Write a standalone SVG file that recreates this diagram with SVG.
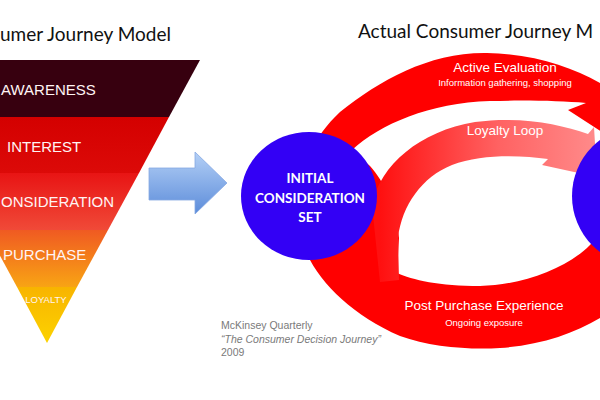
<svg xmlns="http://www.w3.org/2000/svg" width="600" height="400" viewBox="0 0 600 400">
  <defs>
    <linearGradient id="gInterest" x1="0" y1="0" x2="0" y2="1">
      <stop offset="0" stop-color="#d40000"/>
      <stop offset="1" stop-color="#dc0a08"/>
    </linearGradient>
    <linearGradient id="gConsid" x1="0" y1="0" x2="0" y2="1">
      <stop offset="0" stop-color="#e81414"/>
      <stop offset="1" stop-color="#f04a38"/>
    </linearGradient>
    <linearGradient id="gPurch" x1="0" y1="0" x2="0" y2="1">
      <stop offset="0" stop-color="#f05a22"/>
      <stop offset="1" stop-color="#f8a414"/>
    </linearGradient>
    <linearGradient id="gLoyal" x1="0" y1="0" x2="0" y2="1">
      <stop offset="0" stop-color="#f8b400"/>
      <stop offset="1" stop-color="#fcd200"/>
    </linearGradient>
    <linearGradient id="gArrow" x1="0" y1="0" x2="0" y2="1">
      <stop offset="0" stop-color="#b4d0f6"/>
      <stop offset="1" stop-color="#5c8cda"/>
    </linearGradient>
    <linearGradient id="gLoop" gradientUnits="userSpaceOnUse" x1="380" y1="0" x2="595" y2="0">
      <stop offset="0" stop-color="#ff1010"/>
      <stop offset="0.55" stop-color="#ff6262"/>
      <stop offset="1" stop-color="#ff8a8a"/>
    </linearGradient>
    <style>
      .title { font-family: Lato, "Open Sans", sans-serif; font-size: 19px; fill: #111; }
      .band { font-family: "Liberation Sans", Arial, sans-serif; font-size: 15px; fill: #fff4f4; }
      .circ { font-family: Lato, "Liberation Sans", sans-serif; font-weight: bold; font-size: 13.5px; fill: #ffffff; text-anchor: middle; }
      .ring { font-family: "Liberation Sans", Arial, sans-serif; fill: #ffffff; text-anchor: middle; }
      .big { font-size: 13.5px; }
      .small { font-size: 9.5px; }
      .cite { font-family: "Liberation Sans", Arial, sans-serif; font-size: 10.5px; fill: #7a7a7a; }
      .node { fill: #3300f5; }
    </style>
  </defs>

  <rect x="0" y="0" width="600" height="400" fill="#ffffff"/>

  <!-- Titles -->
  <text class="title" x="0" y="41">umer Journey Model</text>
  <text class="title" x="358" y="38">Actual Consumer Journey M</text>

  <!-- Funnel -->
  <g id="awareness">
    <polygon points="-110,60 200,60 169,117 -80,117" fill="#37000f"/>
    <text class="band" x="1" y="95">AWARENESS</text>
  </g>
  <g id="interest">
    <polygon points="-80,117 169,117 139,173 -50,173" fill="url(#gInterest)"/>
    <text class="band" x="7" y="152">INTEREST</text>
  </g>
  <g id="consideration">
    <polygon points="-50,173 139,173 108,230 -14,230" fill="url(#gConsid)"/>
    <text class="band" x="1" y="207">ONSIDERATION</text>
  </g>
  <g id="purchase">
    <polygon points="-14,230 108,230 77,287 17,287" fill="url(#gPurch)"/>
    <text class="band" x="3" y="260">PURCHASE</text>
  </g>
  <g id="loyalty">
    <polygon points="17,287 77,287 47,343" fill="url(#gLoyal)"/>
    <text class="band" x="46" y="303" style="font-size:9.5px" text-anchor="middle">LOYALTY</text>
  </g>

  <!-- Connectors -->
  <g id="connectors">
    <polygon points="149,168 195,168 195,152 227,183 195,214 195,200 149,200" fill="url(#gArrow)" stroke="#86a8e2" stroke-width="0.8"/>
    <!-- red ring -->
    <path d="M 612 90 C 580 70 540 54 487 53 C 430 52 380 80 340 112 C 310 140 292 180 298 225 C 303 265 340 310 400 336 C 430 347 470 350 500 348 C 545 345 585 330 612 310 Z" fill="#ff0000"/>
    <!-- inner hole -->
    <path d="M 352 150 C 380 124 430 103 490 101 C 530 100 560 101 586 103 L 568 110 L 602 132 L 602 232 L 590 245 C 565 270 520 285 480 286 C 440 286 412 280 397 273 L 399 238 C 396 205 384 182 370 166 Z" fill="#ffffff"/>
    <!-- loyalty loop -->
    <path d="M 380 282 L 372 205 C 380 165 420 131 475 122 C 520 116 560 124 588 134 L 594 127 L 597 177 L 542 165 L 548 159 C 520 155 480 154 452 165 C 422 177 402 205 398 238 L 399 280 Z" fill="url(#gLoop)"/>
    <text class="ring big" x="505" y="72">Active Evaluation</text>
    <text class="ring small" x="505" y="86">Information gathering, shopping</text>
    <text class="ring big" x="505" y="135">Loyalty Loop</text>
    <text class="ring big" x="484" y="310">Post Purchase Experience</text>
    <text class="ring small" x="484" y="326">Ongoing exposure</text>
  </g>

  <g id="initial-consideration-set">
    <ellipse class="node" cx="309" cy="196" rx="68" ry="64"/>
    <text class="circ" x="310" y="183">INITIAL</text>
    <text class="circ" x="310" y="203">CONSIDERATION</text>
    <text class="circ" x="310" y="222">SET</text>
  </g>
  <g id="right-node">
    <circle class="node" cx="642" cy="196" r="70"/>
  </g>

  <g id="citation">
    <text class="cite" x="221" y="329">McKinsey Quarterly</text>
    <text class="cite" x="221" y="343" font-style="italic">“The Consumer Decision Journey”</text>
    <text class="cite" x="221" y="356">2009</text>
  </g>
</svg>
